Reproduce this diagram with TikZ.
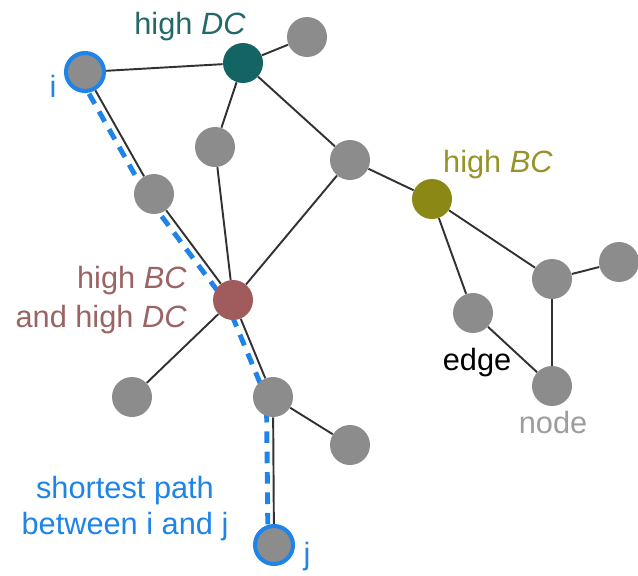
\documentclass[tikz,border=0pt]{standalone}
\usepackage{fontspec}
\setmainfont{Liberation Sans}
\usepackage{tikz}
\usetikzlibrary{positioning,backgrounds}
\definecolor{nodegray}{RGB}{140,140,140}
\definecolor{dcteal}{RGB}{20,100,100}
\definecolor{dctext}{RGB}{35,105,105}
\definecolor{bcolive}{RGB}{140,136,22}
\definecolor{bctext}{RGB}{150,148,40}
\definecolor{bothred}{RGB}{160,92,92}
\definecolor{bothtext}{RGB}{155,100,100}
\definecolor{pathblue}{RGB}{30,132,232}
\definecolor{edgedark}{RGB}{50,50,50}
\def\unitpx{*0.02cm}
\tikzstyle{vertex}=[circle,fill=nodegray,minimum size=40\unitpx,inner sep=0pt]
\tikzstyle{endpoint}=[vertex,draw=pathblue,line width=2.3pt,minimum size=38\unitpx]
\tikzstyle{label}=[inner sep=0pt,font=\fontsize{17.5}{20.5}\selectfont]
\tikzstyle{link}=[draw=edgedark,line width=1.1pt]
\tikzstyle{shortest}=[draw=pathblue,line width=2.8pt,dash pattern=on 6.6pt off 5pt]
\newcommand{\newVertex}[3]{\node[vertex,#2](#1) at #3 {};}
\newcommand{\newLink}[2]{\path[link] (#1) -- (#2);}

\begin{document}
\begin{tikzpicture}[x=0.02cm,y=-0.02cm]
    \useasboundingbox (0,0) rectangle (638,575);
    \newVertex{i}{endpoint}{(85,72)}
    \newVertex{dc}{fill=dcteal}{(243,63)}
    \newVertex{tr}{}{(307,37)}
    \newVertex{a}{}{(215,147)}
    \newVertex{b}{}{(350,160)}
    \newVertex{bc}{fill=bcolive}{(432,199)}
    \newVertex{c}{}{(154,194)}
    \newVertex{hbd}{fill=bothred}{(233,300)}
    \newVertex{d}{}{(552,279)}
    \newVertex{e}{}{(619,262)}
    \newVertex{f}{}{(473,313)}
    \newVertex{g}{}{(552,386)}
    \newVertex{h}{}{(132,397)}
    \newVertex{k}{}{(273,397)}
    \newVertex{m}{}{(350,445)}
    \newVertex{j}{endpoint}{(274,545)}
    \begin{scope}[on background layer]
    % shortest path, behind the nodes
    \path[shortest] ([shift={(-6,4)}]i.center) -- ([shift={(-6,4)}]c.center)
        -- ([shift={(-6,3.5)}]hbd.center) -- ([shift={(-6.5,1.5)}]k.center)
        -- ([shift={(-6,0)}]j.center);
    \newLink{i}{dc}
    \newLink{dc}{tr}
    \newLink{dc}{a}
    \newLink{dc}{b}
    \newLink{b}{bc}
    \newLink{bc}{f}
    \newLink{bc}{d}
    \newLink{d}{e}
    \newLink{d}{g}
    \newLink{f}{g}
    \newLink{a}{hbd}
    \newLink{b}{hbd}
    \newLink{i}{c}
    \newLink{c}{hbd}
    \newLink{hbd}{h}
    \newLink{hbd}{k}
    \newLink{k}{m}
    \newLink{k}{j}
    \end{scope}
    % labels
    \node[label,text=pathblue] (ilab) at (53,86) {i};
    \node[label,text=pathblue] (jlab) at (307,557) {j};
    \node[label,text=dctext] (dclab) at (190,27) {high \textit{DC}};
    \node[label,text=bctext] (bclab) at (498,165) {high \textit{BC}};
    \node[label,text=bothtext,align=right,anchor=east,
        font=\fontsize{17.5}{22.7}\selectfont] (bothlab) at (187,300)
        {high \textit{BC}\\and high \textit{DC}};
    \node[label,text=pathblue,align=center] (pathlab) at (125,509)
        {shortest path\\between i and j};
    \node[label] (edgelab) at (477,363) {edge};
    \node[label,text=nodegray!85] (nodelab) at (553,423) {node};
\end{tikzpicture}
\end{document}
